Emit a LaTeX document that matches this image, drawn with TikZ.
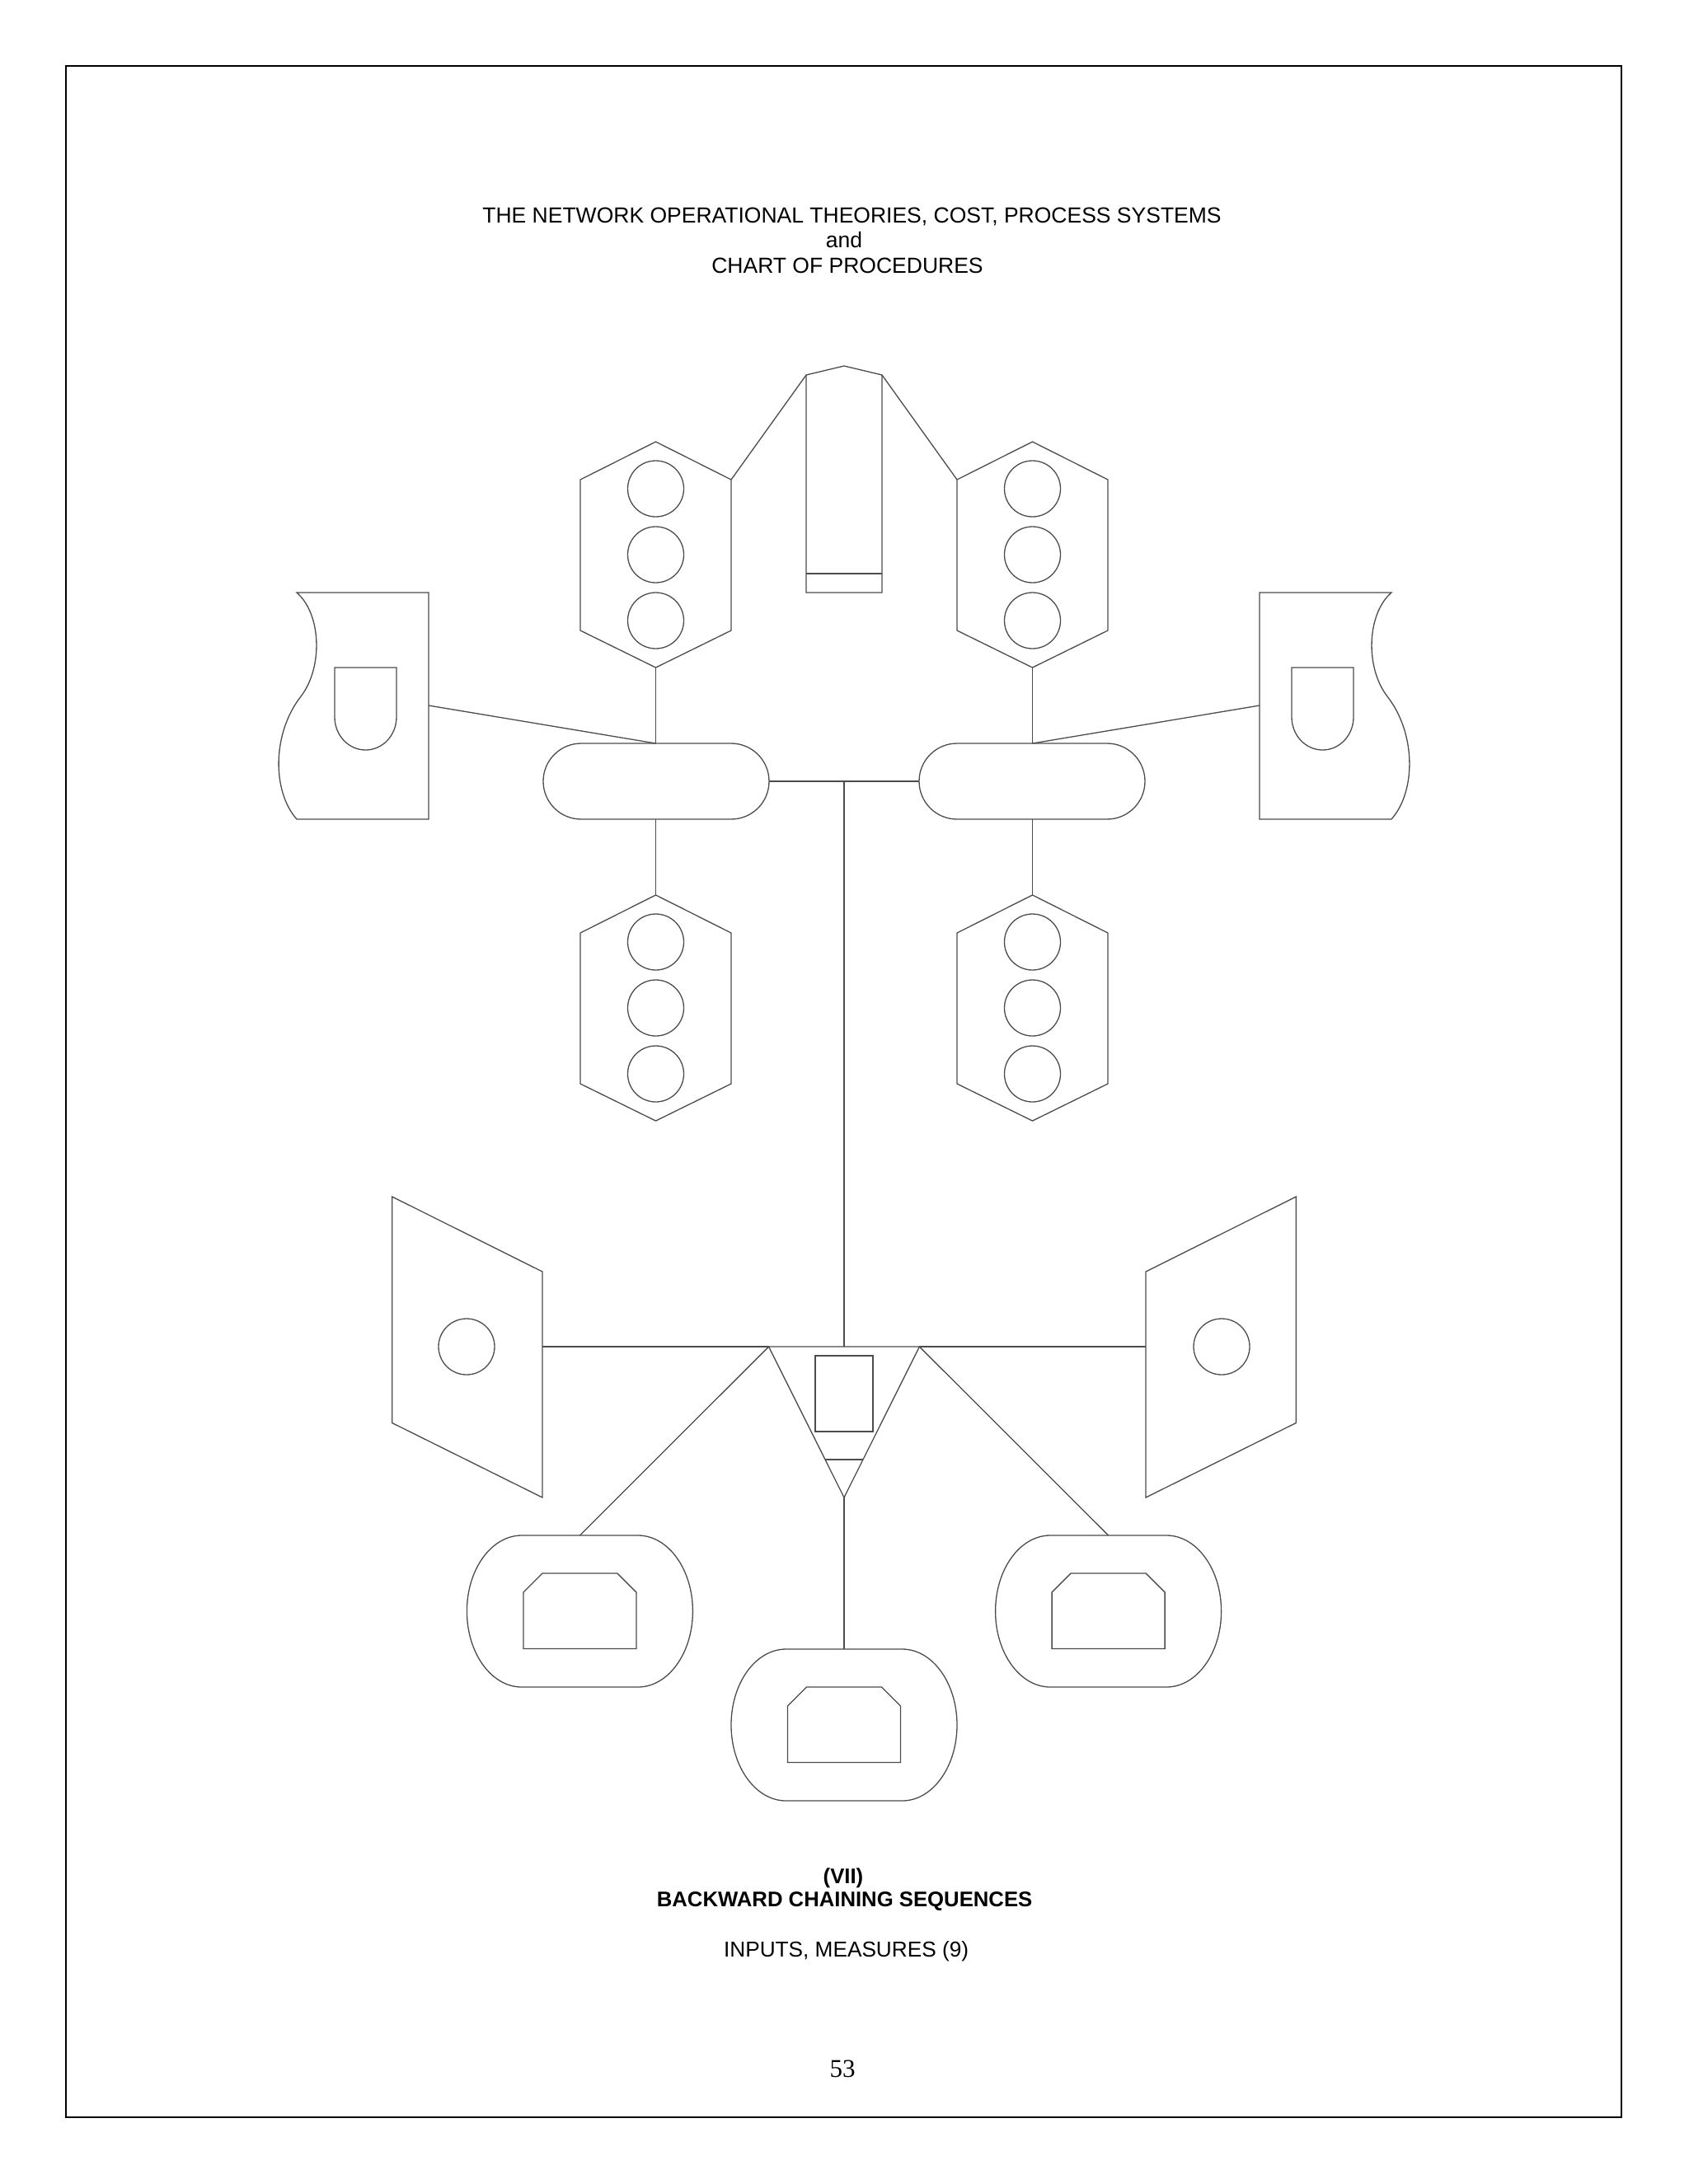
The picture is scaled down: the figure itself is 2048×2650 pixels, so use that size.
\documentclass[tikz,border=0pt]{standalone}
\usepackage{fontspec}
\setmainfont{Liberation Serif}
\newfontfamily\arialf{Liberation Sans}
\begin{document}
\begin{tikzpicture}[x=1pt,y=-1pt,
  ln/.style={draw=black!70,line width=1.3pt,line join=miter},
  frame/.style={draw=black,line width=2.4pt},
  txt/.style={anchor=base,inner sep=0pt,outer sep=0pt},
  ttl/.style={txt,font=\arialf\fontsize{26.5}{30}\selectfont},
  inpt/.style={txt,font=\arialf\fontsize{26.2}{30}\selectfont},
  bld/.style={txt,font=\arialf\bfseries\fontsize{25.7}{30}\selectfont}]
\useasboundingbox (0,0) rectangle (2048,2650);
\fill[white] (0,0) rectangle (2048,2650);
\draw[frame] (80,80) rectangle (1967,2569);

% ---------- macros ----------
\newcommand\hexlights[3]{% name, cx, top
  \draw[ln] (#2,#3) -- ({#2+91.5},{#3+46}) -- ({#2+91.5},{#3+229}) -- (#2,{#3+274})
     -- ({#2-91.5},{#3+229}) -- ({#2-91.5},{#3+46}) -- cycle;
  \draw[ln] (#2,{#3+57}) circle[radius=34pt];
  \draw[ln] (#2,{#3+137}) circle[radius=34pt];
  \draw[ln] (#2,{#3+217}) circle[radius=34pt];
  \coordinate (#1-top) at (#2,#3);
  \coordinate (#1-bot) at (#2,{#3+274});
  \coordinate (#1-ur) at ({#2+91.5},{#3+46});
  \coordinate (#1-ul) at ({#2-91.5},{#3+46});
}
\newcommand\ovalbox[3]{% name, cx, cy
  \draw[ln] ({#2-70.5},{#3-92}) -- ({#2+70.5},{#3-92})
     arc[start angle=90,end angle=-90,x radius=66.5pt,y radius=92pt]
     -- ({#2-70.5},{#3+92})
     arc[start angle=270,end angle=90,x radius=66.5pt,y radius=92pt] -- cycle;
  \draw[ln] ({#2-68.5},{#3+45.5}) -- ({#2-68.5},{#3-23}) -- ({#2-45.5},{#3-46})
     -- ({#2+45.5},{#3-46}) -- ({#2+68.5},{#3-23}) -- ({#2+68.5},{#3+45.5}) -- cycle;
  \coordinate (#1-top) at (#2,{#3-92});
}
\newcommand\ushape[1]{% cx
  \draw[ln] ({#1-37.5},810) -- ({#1-37.5},870)
     arc[start angle=180,end angle=360,x radius=37.5pt,y radius=40pt]
     -- ({#1+37.5},810) -- cycle;
}

% ---------- title ----------
\node[ttl] (title1) at (1033.5,270.5) {THE NETWORK OPERATIONAL THEORIES, COST, PROCESS SYSTEMS};
\node[ttl] (title2) at (1024,300.5) {and};
\node[ttl] (title3) at (1028,331) {CHART OF PROCEDURES};

% ---------- top central tall shape ----------
\draw[ln] (978,719) -- (978,455) -- (1024,444) -- (1070,455) -- (1070,719) -- cycle;
\draw[ln] (978,696) -- (1070,696);
\coordinate (tall-ul) at (978,455);
\coordinate (tall-ur) at (1070,455);

% ---------- hexagons ----------
\hexlights{hexUL}{795.5}{536}
\hexlights{hexUR}{1252.5}{536}
\hexlights{hexLL}{795.5}{1086}
\hexlights{hexLR}{1252.5}{1086}

% ---------- vases ----------
\draw[ln] (520,719) -- (360,719) .. controls (390,745) and (392,810) .. (365,845)
   .. controls (330,890) and (330,960) .. (360,994) -- (520,994) -- cycle;
\ushape{443.5}
\coordinate (vaseL-in) at (520,856);
\draw[ln] (1528,719) -- (1688,719) .. controls (1658,745) and (1656,810) .. (1683,845)
   .. controls (1718,890) and (1718,960) .. (1688,994) -- (1528,994) -- cycle;
\ushape{1604.5}
\coordinate (vaseR-in) at (1528,856);

% ---------- pills ----------
\draw[ln,rounded corners=46pt] (659,902) rectangle (933,994);
\draw[ln,rounded corners=46pt] (1115,902) rectangle (1389,994);
\coordinate (pillL-top) at (795.5,902);
\coordinate (pillL-bot) at (795.5,994);
\coordinate (pillL-r) at (933,948);
\coordinate (pillR-top) at (1252.5,902);
\coordinate (pillR-bot) at (1252.5,994);
\coordinate (pillR-l) at (1115,948);
\coordinate (junc) at (1024,948);

% ---------- parallelograms ----------
\draw[ln] (475.7,1452) -- (658,1543) -- (658,1817) -- (475.7,1726.5) -- cycle;
\draw[ln] (566,1634) circle[radius=34pt];
\draw[ln] (1572.3,1452) -- (1390,1543) -- (1390,1817) -- (1572.3,1726.5) -- cycle;
\draw[ln] (1482,1634) circle[radius=34pt];
\coordinate (paraL-in) at (658,1634);
\coordinate (paraR-in) at (1390,1634);

% ---------- triangle ----------
\draw[ln] (932.6,1634) -- (1115.4,1634) -- (1024,1817) -- cycle;
\draw[ln] (989,1645) rectangle (1059,1737);
\draw[ln] (1001.3,1771) -- (1046.7,1771);
\coordinate (tri-l) at (932.6,1634);
\coordinate (tri-r) at (1115.4,1634);
\coordinate (tri-m) at (1024,1634);
\coordinate (tri-apex) at (1024,1817);

% ---------- ovals ----------
\ovalbox{ovL}{703.4}{1955}
\ovalbox{ovC}{1024}{2093}
\ovalbox{ovR}{1344.6}{1955}

% ---------- connectors ----------
\draw[ln] (hexUL-ur) -- (tall-ul);
\draw[ln] (hexUR-ul) -- (tall-ur);
\draw[ln] (hexUL-bot) -- (pillL-top);
\draw[ln] (hexUR-bot) -- (pillR-top);
\draw[ln] (pillL-bot) -- (hexLL-top);
\draw[ln] (pillR-bot) -- (hexLR-top);
\draw[ln] (vaseL-in) -- (pillL-top);
\draw[ln] (vaseR-in) -- (pillR-top);
\draw[ln] (pillL-r) -- (pillR-l);
\draw[ln] (junc) -- (tri-m);
\draw[ln] (paraL-in) -- (tri-l);
\draw[ln] (tri-r) -- (paraR-in);
\draw[ln] (tri-l) -- (ovL-top);
\draw[ln] (tri-r) -- (ovR-top);
\draw[ln] (tri-apex) -- (ovC-top);

% ---------- bottom texts ----------
\node[bld] (vii) at (1023,2285) {(VII)};
\node[bld] (bcs) at (1024.6,2313) {BACKWARD CHAINING SEQUENCES};
\node[inpt] (inp) at (1026.6,2374) {INPUTS, MEASURES (9)};
\node[txt,font=\fontsize{31}{36}\selectfont] (pg) at (1022,2520) {53};
\end{tikzpicture}
\end{document}
